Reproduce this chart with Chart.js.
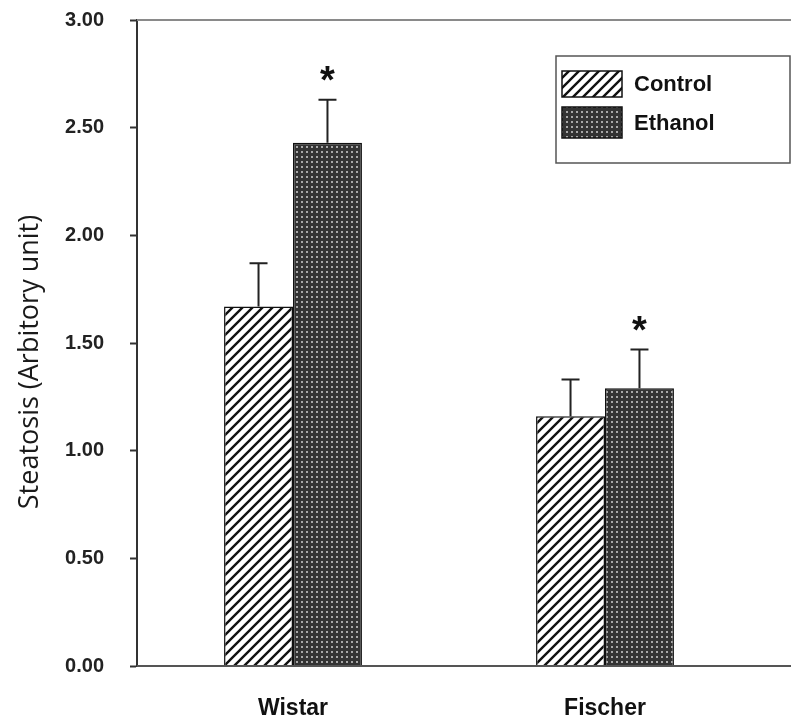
<!DOCTYPE html>
<html>
<head>
<meta charset="utf-8">
<script src="https://cdn.jsdelivr.net/npm/chart.js@4/dist/chart.umd.min.js"></script>
<style>
  html, body { margin: 0; padding: 0; background: #fff; }
  canvas { display: block; }
</style>
</head>
<body>
<canvas id="c" width="791" height="720"></canvas>
<script>
/* ——— data ——— */
const STRAINS      = ['Wistar', 'Fischer'];
const CONTROL      = [1.67, 1.16];
const CONTROL_SE   = [0.20, 0.17];
const ETHANOL      = [2.43, 1.29];
const ETHANOL_SE   = [0.20, 0.18];
const ETHANOL_SIG  = [true, true];      // asterisk above ethanol bar
const Y_TITLE      = 'Steatosis (Arbitory unit)';

/* ——— fill patterns ——— */
function hatch() {
    const s = 10, c = document.createElement('canvas');
    c.width = c.height = s;
    const g = c.getContext('2d');
    g.fillStyle = '#fff'; g.fillRect(0, 0, s, s);
    g.strokeStyle = '#111'; g.lineWidth = 2.4; g.lineCap = 'square';
    g.beginPath();
    g.moveTo(0, s); g.lineTo(s, 0);
    g.moveTo(-2, 2); g.lineTo(2, -2);
    g.moveTo(s - 2, s + 2); g.lineTo(s + 2, s - 2);
    g.stroke();
    return g.createPattern(c, 'repeat');
}
function dots() {
    const s = 5, c = document.createElement('canvas');
    c.width = c.height = s;
    const g = c.getContext('2d');
    g.fillStyle = '#333'; g.fillRect(0, 0, s, s);
    g.fillStyle = '#a8a8a8'; g.fillRect(1, 1, 2, 2);
    return g.createPattern(c, 'repeat');
}
const ctx = document.getElementById('c').getContext('2d');
const HATCH = hatch(), DOTS = dots();

/* ——— extras: frame lines, error bars, stars, legend, y title ——— */
const extras = {
    id: 'extras',
    afterDatasetsDraw(chart) {
        const c = chart.ctx, a = chart.chartArea, y = chart.scales.y;
        c.save();
        // top line + long x axis
        c.strokeStyle = '#8a8a8a'; c.lineWidth = 2;
        c.beginPath(); c.moveTo(a.left, a.top); c.lineTo(chart.width, a.top); c.stroke();
        c.strokeStyle = '#555';
        c.beginPath(); c.moveTo(a.left, a.bottom); c.lineTo(chart.width, a.bottom); c.stroke();

        // error bars
        const errs = [CONTROL_SE, ETHANOL_SE];
        c.strokeStyle = '#222'; c.lineWidth = 2;
        chart.data.datasets.forEach((ds, di) => {
            chart.getDatasetMeta(di).data.forEach((bar, i) => {
                const top = y.getPixelForValue(ds.data[i] + errs[di][i]);
                c.beginPath();
                c.moveTo(bar.x, bar.y); c.lineTo(bar.x, top);
                c.moveTo(bar.x - 9, top); c.lineTo(bar.x + 9, top);
                c.stroke();
                if (di === 1 && ETHANOL_SIG[i]) {
                    c.fillStyle = '#111';
                    c.font = 'bold 38px "Liberation Sans", Arial, sans-serif';
                    c.textAlign = 'center'; c.textBaseline = 'top';
                    c.fillText('*', bar.x, top - 36);
                }
            });
        });

        // legend box
        const lx = 556, ly = 56, lw = 234, lh = 107;
        c.strokeStyle = '#555'; c.lineWidth = 1.5;
        c.strokeRect(lx, ly, lw, lh);
        const rows = [{fill: HATCH, y: 71, h: 26}, {fill: DOTS, y: 107, h: 31}];
        c.font = 'bold 22px "Liberation Sans", Arial, sans-serif';
        c.textAlign = 'left'; c.textBaseline = 'middle';
        chart.data.datasets.forEach((ds, i) => {
            const r = rows[i];
            c.fillStyle = r.fill; c.fillRect(lx + 6, r.y, 60, r.h);
            c.strokeStyle = '#111'; c.lineWidth = 1.5;
            c.strokeRect(lx + 6, r.y, 60, r.h);
            c.fillStyle = '#111';
            c.fillText(ds.label, lx + 78, r.y + r.h / 2 + 1);
        });

        // y title
        c.translate(30, 362); c.rotate(-Math.PI / 2);
        c.font = '27px "Open Sans", sans-serif';
        c.textAlign = 'center'; c.textBaseline = 'middle';
        c.fillStyle = '#1a1a1a';
        c.fillText(Y_TITLE, 0, 0);
        c.restore();
    }
};

new Chart(ctx, {
    type: 'bar',
    data: {
        labels: STRAINS,
        datasets: [
            {label: 'Control', data: CONTROL, backgroundColor: HATCH,
             borderColor: '#111', borderWidth: 1.5},
            {label: 'Ethanol', data: ETHANOL, backgroundColor: DOTS,
             borderColor: '#111', borderWidth: 1.5}
        ]
    },
    options: {
        responsive: false,
        animation: false,
        devicePixelRatio: 1,
        layout: {padding: {top: 20, right: 30, left: 0, bottom: 0}},
        datasets: {bar: {categoryPercentage: 0.442, barPercentage: 1.0}},
        plugins: {legend: {display: false}, tooltip: {enabled: false}},
        scales: {
            x: {
                grid: {display: false},
                border: {display: false},
                ticks: {font: {family: '"Liberation Sans", Arial, sans-serif', size: 23, weight: 'bold'},
                        color: '#111', padding: 21},
                afterFit: s => { s.height = 54; s.paddingLeft = 0; s.paddingRight = 0; }
            },
            y: {
                min: 0, max: 3,
                ticks: {stepSize: 0.5, callback: v => v.toFixed(2),
                        font: {family: '"Liberation Sans", Arial, sans-serif', size: 20, weight: 'bold'},
                        color: '#222', padding: 26},
                grid: {drawOnChartArea: false, tickLength: 7, tickColor: '#333', tickWidth: 2},
                border: {display: true, color: '#333', width: 2},
                afterFit: s => { s.width = 137; s.paddingTop = 0; s.paddingBottom = 0; }
            }
        }
    },
    plugins: [extras]
});
</script>
</body>
</html>
